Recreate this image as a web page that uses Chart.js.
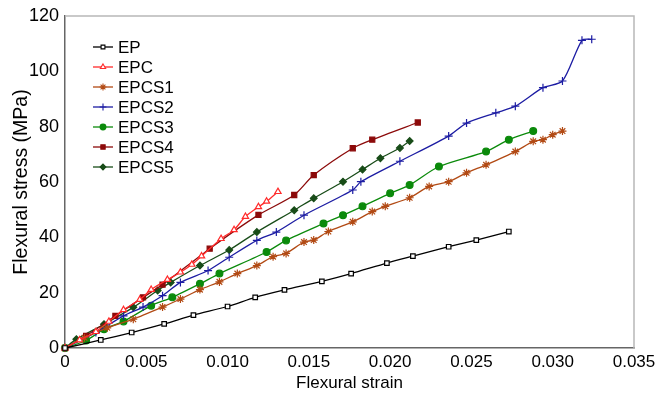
<!DOCTYPE html>
<html>
<head>
<meta charset="utf-8">
<script src="https://cdn.jsdelivr.net/npm/chart.js@4.4.0/dist/chart.umd.min.js"></script>
<style>
  html, body { margin: 0; padding: 0; background: #fff; }
  #wrap { width: 660px; height: 394px; }
</style>
</head>
<body>
<div id="wrap"><canvas id="chart" width="660" height="394"></canvas></div>
<script>
// Flexural stress-strain curves

const seriesNames = ['EP', 'EPC', 'EPCS1', 'EPCS2', 'EPCS3', 'EPCS4', 'EPCS5'];

const epStrain = [0, 0.0022, 0.0041, 0.0061, 0.0079, 0.0100, 0.0117, 0.0135, 0.0158, 0.0176, 0.0198, 0.0214, 0.0236, 0.0253, 0.0273];
const epStress = [0, 2.9, 5.6, 8.7, 11.9, 15.0, 18.3, 21.0, 24.1, 26.9, 30.7, 33.2, 36.6, 39.0, 42.1];

const epcStrain = [0, 0.0009, 0.0019, 0.0027, 0.0036, 0.0046, 0.0053, 0.0063, 0.0071, 0.0078, 0.0084, 0.0096, 0.0104, 0.0111, 0.0119, 0.0124, 0.0131];
const epcStress = [0, 2.9, 5.9, 9.6, 13.8, 17.5, 21.1, 24.7, 27.4, 30.2, 33.2, 39.5, 42.7, 47.5, 51.0, 53.0, 56.5];

const epcs1Strain = [0, 0.0012, 0.0026, 0.0042, 0.0060, 0.0071, 0.0083, 0.0095, 0.0106, 0.0118, 0.0128, 0.0136, 0.0147, 0.0153, 0.0162, 0.0177, 0.0189, 0.0197, 0.0212, 0.0224, 0.0236, 0.0247, 0.0259, 0.0277, 0.0288, 0.0294, 0.0300, 0.0306];
const epcs1Stress = [0, 3.7, 7.3, 10.4, 14.8, 17.7, 21.1, 23.9, 26.9, 29.8, 33.0, 34.2, 38.3, 39.0, 42.1, 45.6, 49.3, 51.2, 54.3, 58.4, 60.1, 63.3, 66.2, 71.0, 74.7, 75.3, 77.1, 78.4];

const epcs2Strain = [0, 0.0019, 0.0036, 0.0048, 0.0060, 0.0071, 0.0088, 0.0101, 0.0118, 0.0130, 0.0147, 0.0177, 0.0182, 0.0206, 0.0236, 0.0247, 0.0265, 0.0277, 0.0294, 0.0306, 0.0318, 0.0324];
const epcs2Stress = [0, 5.6, 11.6, 14.8, 18.9, 23.7, 28.0, 32.8, 38.9, 41.9, 48.0, 57.1, 60.1, 67.5, 76.6, 81.3, 85.0, 87.4, 94.1, 96.5, 111.2, 111.6];

const epcs3Strain = [0, 0.0013, 0.0024, 0.0036, 0.0053, 0.0066, 0.0083, 0.0095, 0.0124, 0.0136, 0.0159, 0.0171, 0.0183, 0.0200, 0.0212, 0.0230, 0.0259, 0.0273, 0.0288];
const epcs3Stress = [0, 2.7, 6.8, 9.6, 15.3, 18.3, 23.2, 26.9, 34.7, 38.9, 45.0, 48.0, 51.2, 55.9, 58.9, 65.6, 71.0, 75.3, 78.4];

const epcs4Strain = [0, 0.0013, 0.0031, 0.0048, 0.0060, 0.0089, 0.0119, 0.0141, 0.0153, 0.0177, 0.0189, 0.0217];
const epcs4Stress = [0, 4.4, 11.6, 18.3, 22.9, 35.9, 48.1, 55.3, 62.5, 72.2, 75.3, 81.5];

const epcs5Strain = [0, 0.0007, 0.0024, 0.0042, 0.0057, 0.0065, 0.0083, 0.0101, 0.0118, 0.0141, 0.0153, 0.0171, 0.0183, 0.0194, 0.0206, 0.0212];
const epcs5Stress = [0, 3.2, 8.6, 14.7, 20.8, 23.7, 29.8, 35.4, 41.9, 49.8, 54.1, 60.1, 64.5, 68.6, 72.3, 74.8];

const xTicks = [0, 0.005, 0.010, 0.015, 0.020, 0.025, 0.030, 0.035];
const xTickLabels = ['0', '0.005', '0.010', '0.015', '0.020', '0.025', '0.030', '0.035'];
const yTicks = [0, 20, 40, 60, 80, 100, 120];

const FONT = '"Liberation Sans", Arial, Helvetica, sans-serif';

function pairs(xs, ys) {
  return xs.map((x, i) => ({ x: x, y: ys[i] }));
}

const styles = [
  { color: '#000000', point: 'rect', fill: '#ffffff', radius: 3.2 },
  { color: '#ff2a2a', point: 'triangle', fill: '#ffffff', radius: 3.6 },
  { color: '#b24a14', point: 'star', fill: '#b24a14', radius: 4 },
  { color: '#1c1ca3', point: 'cross', fill: '#1c1ca3', radius: 4 },
  { color: '#0b8a0b', point: 'circle', fill: '#0b8a0b', radius: 3.4 },
  { color: '#8c0a0a', point: 'rect', fill: '#8c0a0a', radius: 3.6 },
  { color: '#184c18', point: 'rectRot', fill: '#184c18', radius: 3.4 },
];

const allData = [
  pairs(epStrain, epStress),
  pairs(epcStrain, epcStress),
  pairs(epcs1Strain, epcs1Stress),
  pairs(epcs2Strain, epcs2Stress),
  pairs(epcs3Strain, epcs3Stress),
  pairs(epcs4Strain, epcs4Stress),
  pairs(epcs5Strain, epcs5Stress),
];

const datasets = seriesNames.map((name, i) => ({
  label: name,
  data: allData[i],
  borderColor: styles[i].color,
  backgroundColor: styles[i].fill,
  pointStyle: styles[i].point,
  pointRadius: styles[i].radius,
  pointBorderColor: styles[i].color,
  pointBackgroundColor: styles[i].fill,
  pointBorderWidth: 1.2,
  borderWidth: 1.3,
  tension: 0.25,
  showLine: true,
}));

/**
 * Light grey frame on top and right, plus the legend inside the plot
 */
const framePlugin = {
  id: 'frame',
  afterDraw(chart) {
    const { ctx, chartArea } = chart;
    ctx.save();
    ctx.strokeStyle = '#b8b8b8';
    ctx.lineWidth = 1.5;
    ctx.beginPath();
    ctx.moveTo(chartArea.left, chartArea.top);
    ctx.lineTo(chartArea.right, chartArea.top);
    ctx.lineTo(chartArea.right, chartArea.bottom);
    ctx.stroke();

    const lx = 93, ly = 47, step = 20;
    ctx.font = '17px ' + FONT;
    ctx.textBaseline = 'middle';
    chart.data.datasets.forEach((ds, i) => {
      const y = ly + i * step;
      ctx.strokeStyle = ds.borderColor;
      ctx.lineWidth = 1.3;
      ctx.beginPath();
      ctx.moveTo(lx, y);
      ctx.lineTo(lx + 20, y);
      ctx.stroke();
      ctx.fillStyle = ds.pointBackgroundColor;
      ctx.strokeStyle = ds.pointBorderColor;
      ctx.lineWidth = 1.1;
      Chart.helpers.drawPoint(ctx, {
        pointStyle: ds.pointStyle,
        rotation: 0,
        radius: ds.pointRadius * 0.85,
        borderWidth: 1.1,
      }, lx + 10, y);
      ctx.fillStyle = '#000';
      ctx.fillText(ds.label, lx + 25, y + 1);
    });
    ctx.restore();
  },
};

new Chart(document.getElementById('chart'), {
  type: 'scatter',
  data: { datasets: datasets },
  plugins: [framePlugin],
  options: {
    responsive: false,
    animation: false,
    clip: false,
    layout: { padding: { top: 16, right: 26, left: 0, bottom: 0 } },
    plugins: {
      legend: { display: false },
      tooltip: { enabled: false },
    },
    scales: {
      x: {
        type: 'linear',
        min: 0,
        max: 0.035,
        afterFit: (scale) => { scale.height = 46; },
        afterBuildTicks: (scale) => { scale.ticks = xTicks.map((v) => ({ value: v })); },
        ticks: {
          color: '#000',
          font: { family: FONT, size: 17 },
          padding: 4,
          maxRotation: 0,
          autoSkip: false,
          callback: (v) => xTickLabels[xTicks.indexOf(v)] ?? '',
        },
        grid: { display: false, drawTicks: false },
        border: { display: true, color: '#666', width: 1.5 },
        title: {
          display: true,
          text: 'Flexural strain',
          color: '#000',
          font: { family: FONT, size: 17 },
          padding: { top: 0, bottom: 0 },
        },
      },
      y: {
        type: 'linear',
        min: 0,
        max: 120,
        afterFit: (scale) => { scale.width = 65; },
        afterBuildTicks: (scale) => { scale.ticks = yTicks.map((v) => ({ value: v })); },
        ticks: {
          color: '#000',
          font: { family: FONT, size: 18 },
          padding: 2,
        },
        grid: { display: false, drawTicks: true, tickLength: 4, color: '#666' },
        border: { display: true, color: '#666', width: 1.5 },
        title: {
          display: true,
          text: 'Flexural stress (MPa)',
          color: '#000',
          font: { family: FONT, size: 19.5 },
          padding: { top: 10, bottom: 0 },
        },
      },
    },
  },
});
</script>
</body>
</html>
